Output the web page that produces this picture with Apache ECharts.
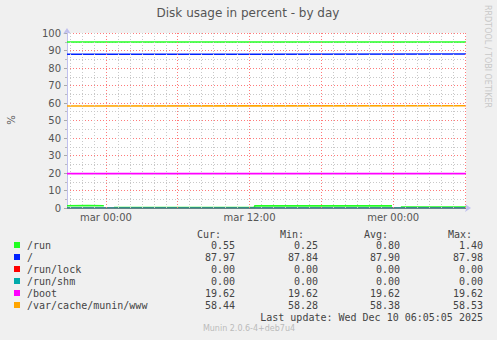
<!DOCTYPE html>
<html>
<head>
<meta charset="utf-8">
<script src="https://cdn.jsdelivr.net/npm/echarts@6/dist/echarts.min.js"></script>
<style>
html,body{margin:0;padding:0;background:#f0f0f0;}
#c{width:497px;height:340px;}
</style>
</head>
<body>
<div id="c"></div>
<script>
// ---- data (x = hours relative to Tue 00:00) ----
const xStart = -3.25;
const xEnd = 30.083;
const xTickValues = [0, 12, 24];
const xTickLabels = ['mar 00:00', 'mar 12:00', 'mer 00:00'];

const runHours  = [-3.25, -1.5, -0.17, -0.17, 0.67, 0.67, 12.42, 12.42, 23.9, 23.9, 24.64, 24.64, 30.08];
const runValues = [1.3,   1.4,  1.3,   '-',   '-',  0.25, 0.3,   1.2,   1.2,  '-',  '-',   0.5,   0.55];

const rootHours  = [-3.25, 12, 30.08];
const rootValues = [87.84, 87.9, 87.97];

const lockHours  = [-3.25, 30.08];
const lockValues = [0, 0];

const shmHours  = [-3.25, 30.08];
const shmValues = [0, 0];

const bootHours  = [-3.25, 30.08];
const bootValues = [19.62, 19.62];

const wwwHours  = [-3.25, 12, 30.08];
const wwwValues = [58.28, 58.38, 58.44];

const topHours  = [-3.25, 30.08];
const topValues = [94.9, 94.9];

const legendNames = ['/run', '/', '/run/lock', '/run/shm', '/boot', '/var/cache/munin/www'];
const legendColors = ['#22ff22', '#0022ff', '#ff0000', '#00aaaa', '#ff00ff', '#ffa500'];
const curVals = ['0.55', '87.97', '0.00', '0.00', '19.62', '58.44'];
const minVals = ['0.25', '87.84', '0.00', '0.00', '19.62', '58.28'];
const avgVals = ['0.80', '87.90', '0.00', '0.00', '19.62', '58.38'];
const maxVals = ['1.40', '87.98', '0.00', '0.00', '19.62', '58.53'];

const title = 'Disk usage in percent - by day';
const yName = '%';
const lastUpdate = 'Last update: Wed Dec 10 06:05:05 2025';
const footer = 'Munin 2.0.6-4+deb7u4';
const sideText = 'RRDTOOL / TOBI OETIKER';

function pairs(xs, ys){ return xs.map((x,i)=>[x, ys[i]]); }

const majorColor = '#ff7a7a';
const minorColor = '#c8c8c8';

// vertical grid lines (hourly minor, 6-hourly major)
const gridLines = [];
for (let h = Math.ceil(xStart); h <= Math.floor(xEnd); h++) {
  const major = (h % 6 === 0);
  gridLines.push({xAxis: h, lineStyle:{color: major ? majorColor : minorColor, type:[1,2], width:1}});
}

const mono = '10px "DejaVu Sans Mono"';
const txtColor = '#444';
const graphics = [];
graphics.push({type:'text', x:248, y:13, style:{text:title, font:'12px "DejaVu Sans"', fill:'#555', align:'center', verticalAlign:'middle'}});
graphics.push({type:'text', x:11, y:120, rotation:Math.PI/2, style:{text:yName, font:'10px "DejaVu Sans"', fill:'#555', align:'center', verticalAlign:'middle'}});
graphics.push({type:'text', x:487, y:5, rotation:-Math.PI/2, style:{text:sideText, font:'8px "DejaVu Sans"', fill:'#c8c8c8', align:'left', verticalAlign:'middle'}});

const headers = ['Cur:', 'Min:', 'Avg:', 'Max:'];
const headerRight = [221, 304, 388, 472];
const colRight = [235, 318, 400, 483];
const cols = [curVals, minVals, avgVals, maxVals];
headers.forEach((h,i)=>{
  graphics.push({type:'text', x:headerRight[i], y:234, style:{text:h, font:mono, fill:txtColor, align:'right', verticalAlign:'middle'}});
});
legendNames.forEach((n,r)=>{
  const y = 245.5 + r*12;
  graphics.push({type:'rect', shape:{x:14, y:y-3.5, width:6, height:6}, style:{fill:legendColors[r]}});
  graphics.push({type:'text', x:27, y:y, style:{text:n, font:mono, fill:txtColor, align:'left', verticalAlign:'middle'}});
  cols.forEach((c,i)=>{
    graphics.push({type:'text', x:colRight[i], y:y, style:{text:c[r], font:mono, fill:txtColor, align:'right', verticalAlign:'middle'}});
  });
});
graphics.push({type:'text', x:483, y:317.5, style:{text:lastUpdate, font:mono, fill:txtColor, align:'right', verticalAlign:'middle'}});
graphics.push({type:'text', x:249, y:328.5, style:{text:footer, font:'8px "DejaVu Sans"', fill:'#bbbbbb', align:'center', verticalAlign:'middle'}});

function lineSeries(name, xs, ys, color, z){
  return {name, type:'line', data:pairs(xs, ys), symbol:'none', showSymbol:false,
    lineStyle:{color, width:1.6}, itemStyle:{color}, connectNulls:false, animation:false, z:z||3, silent:true};
}

const chart = echarts.init(document.getElementById('c'), null, {renderer:'svg'});
chart.setOption({
  backgroundColor:'#f0f0f0',
  animation:false,
  grid:{left:67, right:31, top:33, bottom:132, show:true, backgroundColor:'#ffffff', borderWidth:0},
  xAxis:{
    type:'value', min:xStart, max:xEnd,
    axisLine:{show:true, onZero:false, lineStyle:{color:'#c0c0ee', width:1}, symbol:['none','arrow'], symbolSize:[6,6], symbolOffset:[0,5]},
    axisTick:{show:false},
    splitLine:{show:false},
    axisLabel:{show:true, customValues:xTickValues, margin:4,
      formatter:(v)=>{ const i = xTickValues.indexOf(v); return i>=0 ? xTickLabels[i] : ''; },
      color:'#555', fontSize:10, fontFamily:'DejaVu Sans'}
  },
  yAxis:{
    type:'value', min:0, max:100, interval:10,
    axisLine:{show:true, onZero:false, lineStyle:{color:'#c0c0ee', width:1}, symbol:['none','arrow'], symbolSize:[6,6], symbolOffset:[0,5]},
    axisTick:{show:true, length:3, lineStyle:{color:'#aaaaaa'}},
    minorTick:{show:true, splitNumber:2, length:2, lineStyle:{color:'#bbbbbb'}},
    splitLine:{show:true, lineStyle:{color:majorColor, type:[1,2]}},
    minorSplitLine:{show:true, lineStyle:{color:minorColor, type:[1,2]}},
    axisLabel:{color:'#555', fontSize:10, fontFamily:'DejaVu Sans', margin:6}
  },
  series:[
    {name:'grid', type:'line', data:pairs(lockHours, lockValues), symbol:'none', lineStyle:{opacity:0}, z:1, silent:true,
      markLine:{silent:true, symbol:['none','none'], label:{show:false}, animation:false, data:gridLines}},
    lineSeries('/run', runHours, runValues, legendColors[0]),
    lineSeries('/', rootHours, rootValues, legendColors[1]),
    lineSeries('/run/lock', lockHours, lockValues, legendColors[2]),
    lineSeries('/run/shm', shmHours, shmValues, legendColors[3]),
    lineSeries('/boot', bootHours, bootValues, legendColors[4]),
    lineSeries('/var/cache/munin/www', wwwHours, wwwValues, legendColors[5]),
    lineSeries('', topHours, topValues, legendColors[0])
  ],
  graphic: graphics
});
</script>
</body>
</html>
